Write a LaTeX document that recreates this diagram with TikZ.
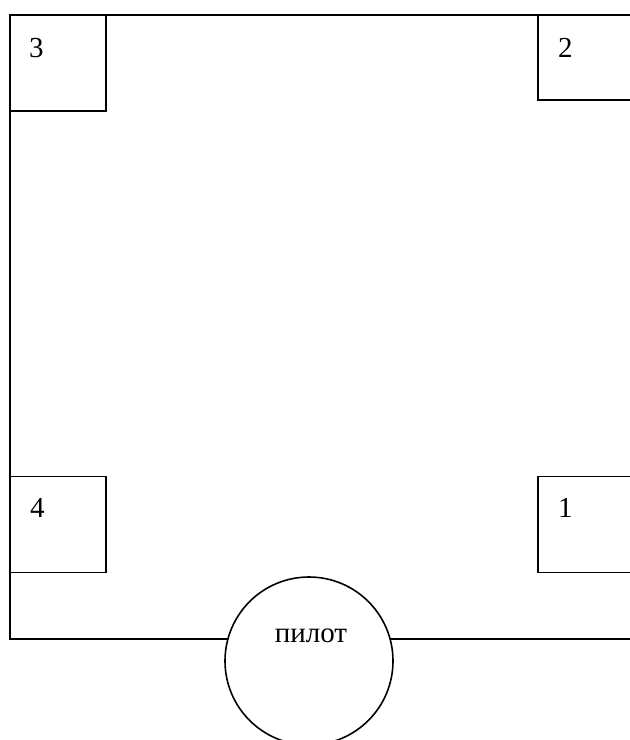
\documentclass[tikz,border=0pt]{standalone}
\usepackage{fontspec}
\setmainfont{Liberation Serif}
\begin{document}
\begin{tikzpicture}[x=1pt,y=-1pt,
  frame/.style={draw=black,line width=1.6pt},
  cornerbox/.style={frame,rectangle,minimum width=96pt,minimum height=96pt,inner sep=0pt,fill=white},
  pilotcircle/.style={frame,circle,minimum size=168pt,inner sep=0pt,fill=white},
  lbl/.style={font=\fontsize{29}{32}\selectfont,inner sep=0pt,anchor=base west}]
\useasboundingbox (0,0) rectangle (630,740);
\clip (0,0) rectangle (630,740);
% outer frame
\coordinate (tl) at (10,15);
\coordinate (tr) at (634,15);
\coordinate (bl) at (10,639);
\coordinate (br) at (634,639);
\draw[frame] (tr) -- (tl) -- (bl) -- (br);
% corner boxes
\node[cornerbox] (b3) at (58,63) {};
\node[cornerbox,minimum width=100pt,minimum height=85pt] (b2) at (588,57.5) {};
\node[cornerbox] (b4) at (58,524.5) {};
\node[cornerbox,minimum width=100pt] (b1) at (588,524.5) {};
\node[lbl] (t3) at (29,57) {3};
\node[lbl] (t2) at (558,57) {2};
\node[lbl] (t4) at (30,517) {4};
\node[lbl] (t1) at (558,517) {1};
% pilot
\node[pilotcircle] (pilot) at (309,661) {};
\node[font=\fontsize{29}{32}\selectfont,inner sep=0pt,anchor=base] (pilottext) at (311,642) {пилот};
\end{tikzpicture}
\end{document}
